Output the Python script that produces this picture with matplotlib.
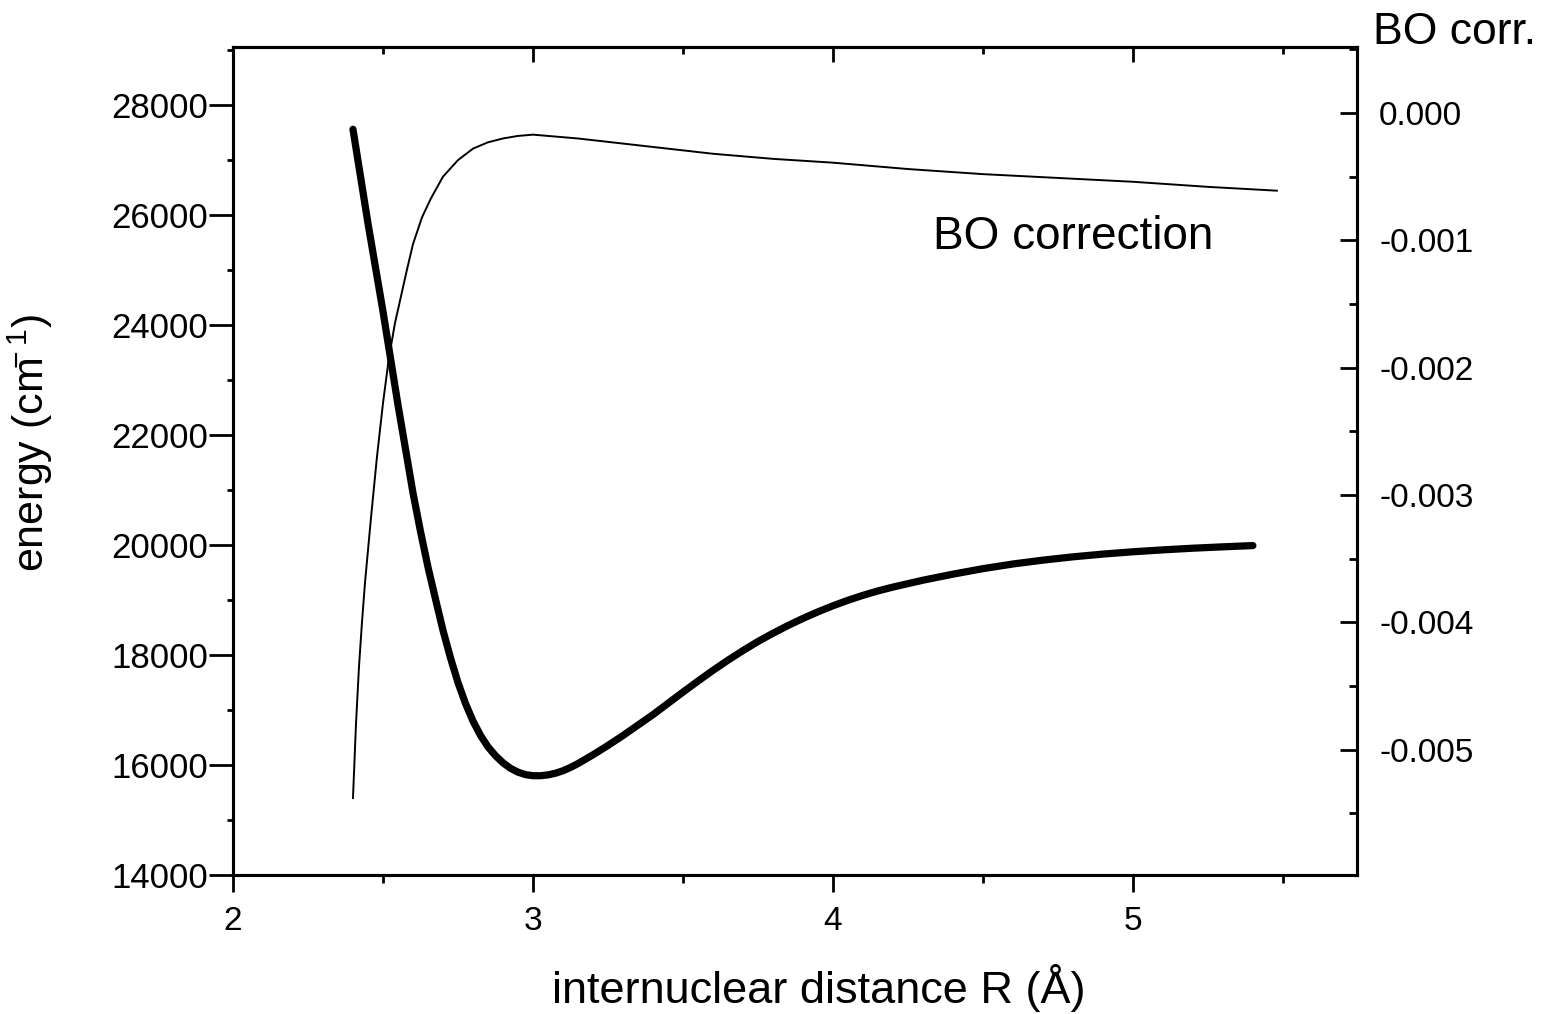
import numpy as np
import matplotlib
matplotlib.use("Agg")
import matplotlib.pyplot as plt
from matplotlib.ticker import MultipleLocator, FormatStrFormatter, NullFormatter

plt.rcParams['font.family'] = ['Liberation Sans', 'DejaVu Sans']
plt.rcParams['mathtext.fontset'] = 'custom'
plt.rcParams['mathtext.rm'] = 'Liberation Sans'
plt.rcParams['mathtext.it'] = 'Liberation Sans'

# potential curve (left axis, cm^-1)
r_energy = [2.40, 2.45, 2.50, 2.55, 2.60, 2.625, 2.65, 2.675, 2.70, 2.725, 2.75, 2.775,
            2.80, 2.825, 2.85, 2.875, 2.90, 2.925, 2.95, 2.975, 3.00, 3.025, 3.05, 3.075,
            3.10, 3.125, 3.15, 3.20, 3.25, 3.30, 3.35, 3.40, 3.45, 3.50, 3.55, 3.60,
            3.65, 3.70, 3.75, 3.80, 3.85, 3.90, 3.95, 4.00, 4.05, 4.10, 4.15, 4.20,
            4.30, 4.40, 4.50, 4.60, 4.70, 4.80, 4.90, 5.00, 5.10, 5.20, 5.30, 5.40]
energy = [27560, 25850, 24250, 22550, 20950, 20250, 19600, 19020, 18450, 17950, 17500, 17120,
          16800, 16540, 16330, 16170, 16040, 15940, 15870, 15825, 15805, 15805, 15820, 15850,
          15895, 15955, 16025, 16185, 16355, 16535, 16725, 16915, 17120, 17325, 17525, 17720,
          17905, 18080, 18245, 18395, 18535, 18665, 18785, 18895, 18995, 19085, 19165, 19235,
          19360, 19470, 19570, 19655, 19725, 19785, 19835, 19877, 19912, 19942, 19967, 19990]

# BO correction (right axis)
r_bo = [2.40, 2.41, 2.42, 2.43, 2.44, 2.46, 2.48, 2.50, 2.52, 2.54, 2.56, 2.58, 2.60,
        2.63, 2.66, 2.70, 2.75, 2.80, 2.85, 2.90, 2.95, 3.00, 3.05, 3.15, 3.30, 3.45,
        3.60, 3.80, 4.00, 4.25, 4.50, 4.75, 5.00, 5.25, 5.48]
bo_corr = [-0.00538, -0.00480, -0.00435, -0.00400, -0.00369, -0.00318, -0.00270, -0.00228,
           -0.00192, -0.00165, -0.00144, -0.00123, -0.00103, -0.00082, -0.00067, -0.00050,
           -0.00037, -0.00028, -0.00023, -0.00020, -0.00018, -0.00017, -0.00018, -0.00020,
           -0.00024, -0.00028, -0.00032, -0.00036, -0.00039, -0.00044, -0.00048, -0.00051,
           -0.00054, -0.00058, -0.00061]

fig = plt.figure(figsize=(15.45, 10.14), dpi=100)
ax = fig.add_axes([0.1508, 0.1371, 0.7275, 0.8165])
ax2 = ax.twinx()

ax.plot(r_energy, energy, color='black', lw=5.2, solid_capstyle='round', solid_joinstyle='round')
ax2.plot(r_bo, bo_corr, color='black', lw=1.4, solid_joinstyle='round')

ax.set_xlim(2, 5.747)
ax.set_ylim(14000, 29055)
ax2.set_ylim(-0.005984, 0.000518)

ax.xaxis.set_major_locator(MultipleLocator(1))
ax.xaxis.set_minor_locator(MultipleLocator(0.5))
ax.yaxis.set_major_locator(MultipleLocator(2000))
ax.yaxis.set_minor_locator(MultipleLocator(1000))
ax2.yaxis.set_major_locator(MultipleLocator(0.001))
ax2.yaxis.set_minor_locator(MultipleLocator(0.0005))
ax2.yaxis.set_major_formatter(FormatStrFormatter('%.3f'))

for a in (ax, ax2):
    for s in a.spines.values():
        s.set_linewidth(2.2)

ax.tick_params(axis='x', which='both', direction='out', top=False, labelsize=24, pad=10, width=2)
ax.tick_params(axis='x', which='major', length=12)
ax.tick_params(axis='x', which='minor', length=6)
ax.tick_params(axis='y', which='both', direction='out', labelsize=25, pad=1, width=2)
ax.tick_params(axis='y', which='major', length=17)
ax.tick_params(axis='y', which='minor', length=4)
ax2.tick_params(axis='y', which='both', direction='in', labelsize=24, pad=16, width=2)
ax2.tick_params(axis='y', which='major', length=12)
ax2.tick_params(axis='y', which='minor', length=6)

# top ticks point into the plot
sec = ax.secondary_xaxis('top')
sec.xaxis.set_major_locator(MultipleLocator(1))
sec.xaxis.set_minor_locator(MultipleLocator(0.5))
sec.xaxis.set_major_formatter(NullFormatter())
sec.spines['top'].set_linewidth(2.2)
sec.tick_params(which='both', direction='in', width=2)
sec.tick_params(which='major', length=11)
sec.tick_params(which='minor', length=5)

ax.set_xlabel('internuclear distance R (Å)', fontsize=32.5)
ax.xaxis.set_label_coords(0.521, -0.108)
ax.set_ylabel(r'energy (cm$^{\mathdefault{\!\!\!\!-1}}$)', fontsize=31)
ax.yaxis.set_label_coords(-0.158, 0.522)

ax.text(4.8, 25600, 'BO correction', fontsize=33, ha='center', va='center')
fig.text(0.8887, 0.968, 'BO corr.', fontsize=32, ha='left', va='center')

fig.savefig('out.png', dpi=100)
